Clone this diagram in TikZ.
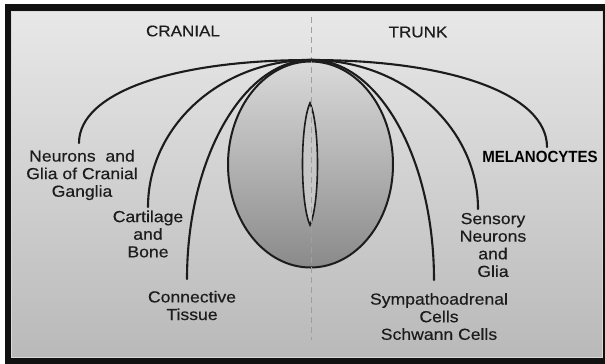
\documentclass[tikz,border=0pt]{standalone}
\usepackage{fontspec}
\usetikzlibrary{shapes.geometric}
\newfontfamily\lab[FakeStretch=1.1,FakeBold=0.35]{Liberation Sans}
\newfontfamily\labb[FakeStretch=0.93]{Liberation Sans}
\definecolor{ink}{HTML}{1C1C1C}
\definecolor{frame}{HTML}{111111}
\definecolor{paneltop}{HTML}{E8E8E8}
\definecolor{panelbot}{HTML}{B9B9B9}
\definecolor{bodytop}{HTML}{DADADA}
\definecolor{bodybot}{HTML}{8A8A8A}
\definecolor{lensfill}{HTML}{C6C6C6}
\begin{document}
\begin{tikzpicture}[x=1pt,y=-1pt,
  lbl/.style={font=\lab\fontsize{16}{17.6}\selectfont, text=ink, align=center, inner sep=0pt},
  boldlbl/.style={font=\labb\bfseries\fontsize{16.2}{17.6}\selectfont, text=black, inner sep=0pt},
  branch/.style={draw=ink, line width=2.1pt, line cap=round},
  axisline/.style={draw=gray!75, line width=0.9pt, dash pattern=on 6pt off 4pt}]
\useasboundingbox (0,0) rectangle (605,364);
% frame and panel
\fill[white] (0,0) rectangle (605,364);
\fill[frame] (5,4) rectangle (605,364);
\shade[top color=paneltop, bottom color=panelbot, draw=gray!30, line width=0.8pt] (11,11) rectangle (602,357);
% body ellipse
\node[ellipse, draw=ink, line width=2pt, top color=bodytop, bottom color=bodybot,
      minimum width=165pt, minimum height=206pt, inner sep=0pt] (body) at (310.5,164.5) {};
% inner lens
\draw[ink, line width=1.6pt, fill=lensfill]
  (310,103) .. controls (320,125) and (320,203) .. (310,225)
            .. controls (300,203) and (300,125) .. (310,103) -- cycle;
% axis
\coordinate (dTop) at (311,17);
\coordinate (dBot) at (311,340);
\draw[axisline] (dTop) -- (dBot);
% junction and branch ends
\coordinate (J) at (311,60);
\coordinate (eNeur) at (79,143);
\coordinate (eCart) at (148,207);
\coordinate (eConn) at (187,279);
\coordinate (eSymp) at (434,280);
\coordinate (eSens) at (478,209);
\coordinate (eMel) at (547,147);
\draw[branch] (J) .. controls (172,60) and (79,93) .. (eNeur);
\draw[branch] (J) .. controls (221,60) and (148,126) .. (eCart);
\draw[branch] (J) .. controls (243,60) and (187,159) .. (eConn);
\draw[branch] (J) .. controls (379,60) and (434,159) .. (eSymp);
\draw[branch] (J) .. controls (403,60) and (478,127) .. (eSens);
\draw[branch] (J) .. controls (453,60) and (547,95) .. (eMel);
% labels
\node[lbl, font=\lab\fontsize{15.5}{17}\selectfont] (cranial) at (183,31) {CRANIAL};
\node[lbl, font=\lab\fontsize{15.5}{17}\selectfont] (trunk) at (418,32) {TRUNK};
\node[lbl] (neur) at (82,175) {Neurons\ \ and\\Glia of Cranial\\Ganglia};
\node[lbl] (cart) at (148,234) {Cartilage\\and\\Bone};
\node[lbl] (conn) at (192,305.5) {Connective\\Tissue};
\node[lbl] (sens) at (493,245) {Sensory\\Neurons\\and\\Glia};
\node[lbl] (symp) at (439,316.5) {Sympathoadrenal\\Cells\\Schwann Cells};
\node[boldlbl] (mel) at (540,157) {MELANOCYTES};
\end{tikzpicture}
\end{document}
